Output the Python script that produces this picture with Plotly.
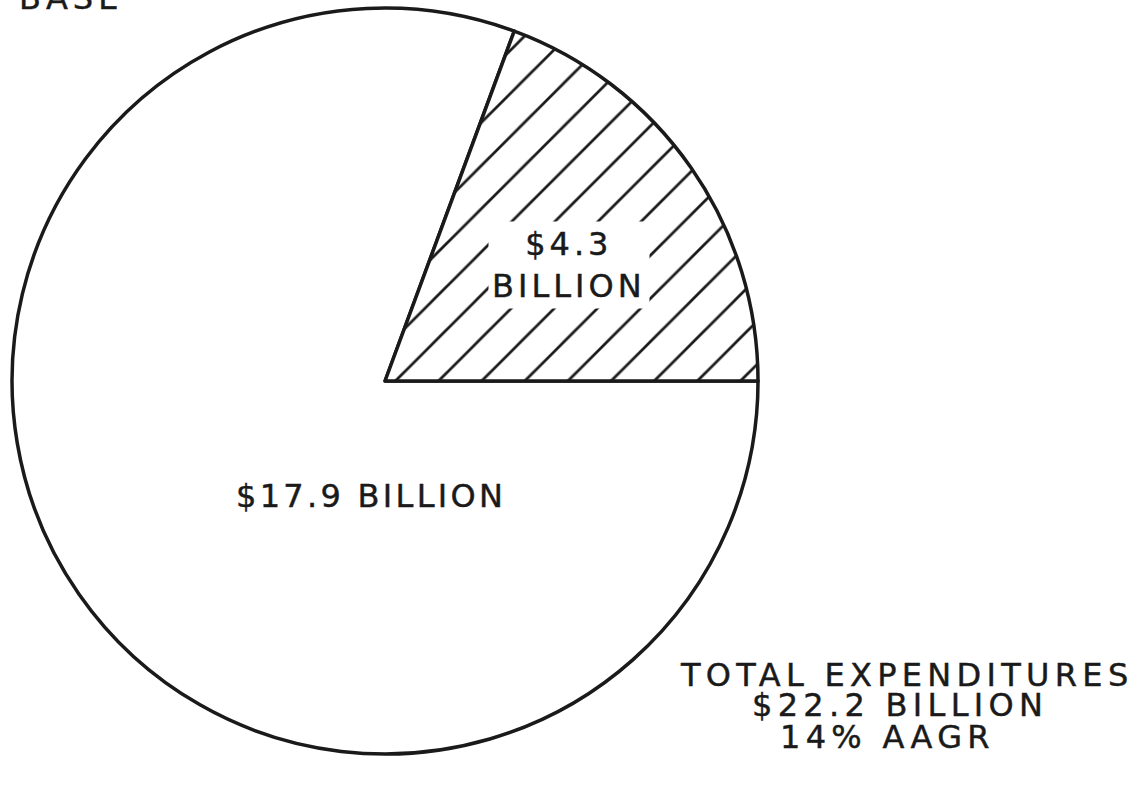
import plotly.graph_objects as go

# Expenditure split (billions of dollars), drawn clockwise from 3 o'clock
segments = ["Remaining share", "Hatched share"]
values = [17.9, 4.3]
slice_labels = ["$17.9 BILLION", "$4.3<br>BILLION"]
corner_label = "BASE"
total_lines = ["TOTAL EXPENDITURES", "$22.2 BILLION", "14% AAGR"]

W, H = 1148, 785
FONT = "DejaVu Sans"
INK = "#1a1a1a"


def spaced(txt, px):
    # wide-tracked lettering with a slightly heavier stroke
    return (f'<span style="letter-spacing:{px}px;stroke:{INK};'
            f'stroke-width:0.45px">{txt}</span>')


fig = go.Figure()

fig.add_trace(go.Pie(
    labels=segments,
    values=values,
    sort=False,
    direction="clockwise",
    rotation=90,
    textinfo="none",
    hoverinfo="skip",
    showlegend=False,
    domain=dict(x=[0.0105, 0.6603], y=[0.0395, 0.9898]),
    marker=dict(
        colors=["white", "white"],
        line=dict(color=INK, width=3.5),
        pattern=dict(
            shape=["", "/"],
            fgcolor=INK,
            bgcolor="white",
            size=30.5,
            solidity=0.09,
        ),
    ),
))

annotations = []

# label inside the hatched slice, on a white patch so the hatching breaks around it
annotations.append(dict(
    x=569 / W, y=1 - 265 / H, xref="paper", yref="paper",
    text=spaced(slice_labels[1], 4), showarrow=False,
    font=dict(family=FONT, size=32, color=INK),
    bgcolor="white", borderpad=3, xanchor="center", yanchor="middle",
))

annotations.append(dict(
    x=371 / W, y=1 - 496 / H, xref="paper", yref="paper",
    text=spaced(slice_labels[0], 3.3), showarrow=False,
    font=dict(family=FONT, size=32, color=INK),
    xanchor="center", yanchor="middle",
))

annotations.append(dict(
    x=17 / W, y=1 + 2 / H, xref="paper", yref="paper",
    text=spaced(corner_label, 5), showarrow=False,
    font=dict(family=FONT, size=32, color=INK),
    xanchor="left", yanchor="middle",
))

# three-line total block, one annotation per line for tight leading
for line, xc, yc in zip(total_lines, [907, 900, 887], [675, 705, 737]):
    annotations.append(dict(
        x=xc / W, y=1 - yc / H, xref="paper", yref="paper",
        text=spaced(line, 5.3), showarrow=False,
        font=dict(family=FONT, size=32, color=INK),
        xanchor="center", yanchor="middle",
    ))

fig.update_layout(
    width=W, height=H,
    margin=dict(l=0, r=0, t=0, b=0),
    paper_bgcolor="white",
    plot_bgcolor="white",
    annotations=annotations,
)

fig.write_html("out.html")
